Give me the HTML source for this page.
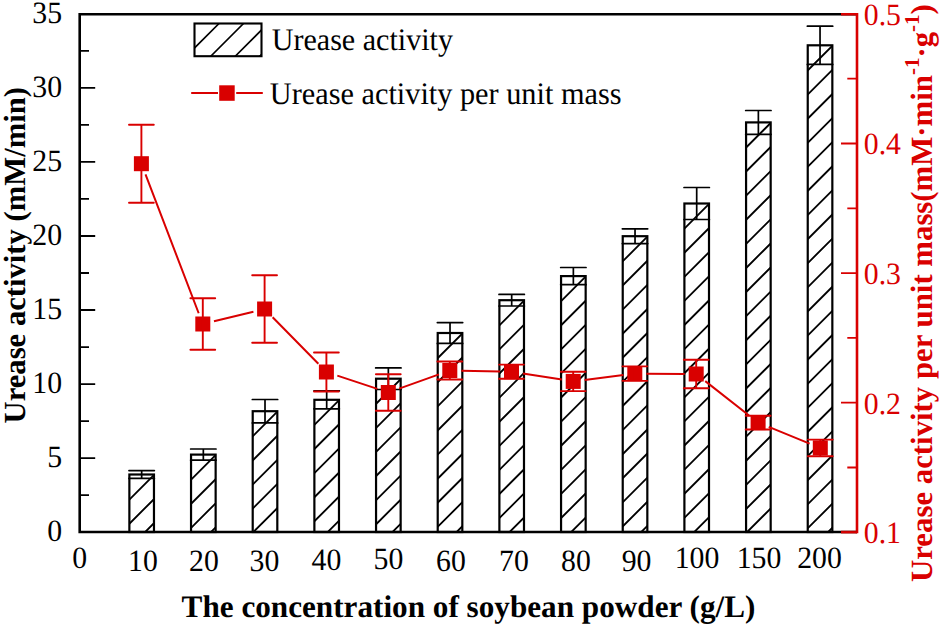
<!DOCTYPE html><html><head><meta charset="utf-8"><style>html,body{margin:0;padding:0;background:#fff;}svg{display:block;}</style></head><body>
<svg width="940" height="626" viewBox="0 0 940 626" font-family="Liberation Serif, serif" text-rendering="geometricPrecision">
<defs>
<clipPath id="c0"><rect x="129.37" y="474.50" width="24.6" height="57.50"/></clipPath>
<clipPath id="c1"><rect x="191.04" y="454.60" width="24.6" height="77.40"/></clipPath>
<clipPath id="c2"><rect x="252.71" y="411.20" width="24.6" height="120.80"/></clipPath>
<clipPath id="c3"><rect x="314.38" y="399.80" width="24.6" height="132.20"/></clipPath>
<clipPath id="c4"><rect x="376.05" y="378.70" width="24.6" height="153.30"/></clipPath>
<clipPath id="c5"><rect x="437.72" y="333.00" width="24.6" height="199.00"/></clipPath>
<clipPath id="c6"><rect x="499.39" y="300.20" width="24.6" height="231.80"/></clipPath>
<clipPath id="c7"><rect x="561.06" y="276.10" width="24.6" height="255.90"/></clipPath>
<clipPath id="c8"><rect x="622.73" y="236.20" width="24.6" height="295.80"/></clipPath>
<clipPath id="c9"><rect x="684.40" y="203.50" width="24.6" height="328.50"/></clipPath>
<clipPath id="c10"><rect x="746.07" y="122.40" width="24.6" height="409.60"/></clipPath>
<clipPath id="c11"><rect x="807.74" y="45.30" width="24.6" height="486.70"/></clipPath>
</defs>
<path clip-path="url(#c0)" d="M127.37 501.60L155.97 473.00M127.37 525.70L155.97 497.10M127.37 549.80L155.97 521.20" stroke="#000" stroke-width="1.85" fill="none"/>
<rect x="129.37" y="474.50" width="24.6" height="57.50" fill="none" stroke="#000" stroke-width="2.2"/>
<path clip-path="url(#c1)" d="M189.04 481.70L217.64 453.10M189.04 505.80L217.64 477.20M189.04 529.90L217.64 501.30M189.04 554.00L217.64 525.40" stroke="#000" stroke-width="1.85" fill="none"/>
<rect x="191.04" y="454.60" width="24.6" height="77.40" fill="none" stroke="#000" stroke-width="2.2"/>
<path clip-path="url(#c2)" d="M250.71 438.30L279.31 409.70M250.71 462.40L279.31 433.80M250.71 486.50L279.31 457.90M250.71 510.60L279.31 482.00M250.71 534.70L279.31 506.10M250.71 558.80L279.31 530.20" stroke="#000" stroke-width="1.85" fill="none"/>
<rect x="252.71" y="411.20" width="24.6" height="120.80" fill="none" stroke="#000" stroke-width="2.2"/>
<path clip-path="url(#c3)" d="M312.38 426.90L340.98 398.30M312.38 451.00L340.98 422.40M312.38 475.10L340.98 446.50M312.38 499.20L340.98 470.60M312.38 523.30L340.98 494.70M312.38 547.40L340.98 518.80" stroke="#000" stroke-width="1.85" fill="none"/>
<rect x="314.38" y="399.80" width="24.6" height="132.20" fill="none" stroke="#000" stroke-width="2.2"/>
<path clip-path="url(#c4)" d="M374.05 405.80L402.65 377.20M374.05 429.90L402.65 401.30M374.05 454.00L402.65 425.40M374.05 478.10L402.65 449.50M374.05 502.20L402.65 473.60M374.05 526.30L402.65 497.70M374.05 550.40L402.65 521.80" stroke="#000" stroke-width="1.85" fill="none"/>
<rect x="376.05" y="378.70" width="24.6" height="153.30" fill="none" stroke="#000" stroke-width="2.2"/>
<path clip-path="url(#c5)" d="M435.72 360.10L464.32 331.50M435.72 384.20L464.32 355.60M435.72 408.30L464.32 379.70M435.72 432.40L464.32 403.80M435.72 456.50L464.32 427.90M435.72 480.60L464.32 452.00M435.72 504.70L464.32 476.10M435.72 528.80L464.32 500.20M435.72 552.90L464.32 524.30" stroke="#000" stroke-width="1.85" fill="none"/>
<rect x="437.72" y="333.00" width="24.6" height="199.00" fill="none" stroke="#000" stroke-width="2.2"/>
<path clip-path="url(#c6)" d="M497.39 327.30L525.99 298.70M497.39 351.40L525.99 322.80M497.39 375.50L525.99 346.90M497.39 399.60L525.99 371.00M497.39 423.70L525.99 395.10M497.39 447.80L525.99 419.20M497.39 471.90L525.99 443.30M497.39 496.00L525.99 467.40M497.39 520.10L525.99 491.50M497.39 544.20L525.99 515.60" stroke="#000" stroke-width="1.85" fill="none"/>
<rect x="499.39" y="300.20" width="24.6" height="231.80" fill="none" stroke="#000" stroke-width="2.2"/>
<path clip-path="url(#c7)" d="M559.06 303.20L587.66 274.60M559.06 327.30L587.66 298.70M559.06 351.40L587.66 322.80M559.06 375.50L587.66 346.90M559.06 399.60L587.66 371.00M559.06 423.70L587.66 395.10M559.06 447.80L587.66 419.20M559.06 471.90L587.66 443.30M559.06 496.00L587.66 467.40M559.06 520.10L587.66 491.50M559.06 544.20L587.66 515.60" stroke="#000" stroke-width="1.85" fill="none"/>
<rect x="561.06" y="276.10" width="24.6" height="255.90" fill="none" stroke="#000" stroke-width="2.2"/>
<path clip-path="url(#c8)" d="M620.73 263.30L649.33 234.70M620.73 287.40L649.33 258.80M620.73 311.50L649.33 282.90M620.73 335.60L649.33 307.00M620.73 359.70L649.33 331.10M620.73 383.80L649.33 355.20M620.73 407.90L649.33 379.30M620.73 432.00L649.33 403.40M620.73 456.10L649.33 427.50M620.73 480.20L649.33 451.60M620.73 504.30L649.33 475.70M620.73 528.40L649.33 499.80M620.73 552.50L649.33 523.90" stroke="#000" stroke-width="1.85" fill="none"/>
<rect x="622.73" y="236.20" width="24.6" height="295.80" fill="none" stroke="#000" stroke-width="2.2"/>
<path clip-path="url(#c9)" d="M682.40 230.60L711.00 202.00M682.40 254.70L711.00 226.10M682.40 278.80L711.00 250.20M682.40 302.90L711.00 274.30M682.40 327.00L711.00 298.40M682.40 351.10L711.00 322.50M682.40 375.20L711.00 346.60M682.40 399.30L711.00 370.70M682.40 423.40L711.00 394.80M682.40 447.50L711.00 418.90M682.40 471.60L711.00 443.00M682.40 495.70L711.00 467.10M682.40 519.80L711.00 491.20M682.40 543.90L711.00 515.30" stroke="#000" stroke-width="1.85" fill="none"/>
<rect x="684.40" y="203.50" width="24.6" height="328.50" fill="none" stroke="#000" stroke-width="2.2"/>
<path clip-path="url(#c10)" d="M744.07 149.50L772.67 120.90M744.07 173.60L772.67 145.00M744.07 197.70L772.67 169.10M744.07 221.80L772.67 193.20M744.07 245.90L772.67 217.30M744.07 270.00L772.67 241.40M744.07 294.10L772.67 265.50M744.07 318.20L772.67 289.60M744.07 342.30L772.67 313.70M744.07 366.40L772.67 337.80M744.07 390.50L772.67 361.90M744.07 414.60L772.67 386.00M744.07 438.70L772.67 410.10M744.07 462.80L772.67 434.20M744.07 486.90L772.67 458.30M744.07 511.00L772.67 482.40M744.07 535.10L772.67 506.50M744.07 559.20L772.67 530.60" stroke="#000" stroke-width="1.85" fill="none"/>
<rect x="746.07" y="122.40" width="24.6" height="409.60" fill="none" stroke="#000" stroke-width="2.2"/>
<path clip-path="url(#c11)" d="M805.74 72.40L834.34 43.80M805.74 96.50L834.34 67.90M805.74 120.60L834.34 92.00M805.74 144.70L834.34 116.10M805.74 168.80L834.34 140.20M805.74 192.90L834.34 164.30M805.74 217.00L834.34 188.40M805.74 241.10L834.34 212.50M805.74 265.20L834.34 236.60M805.74 289.30L834.34 260.70M805.74 313.40L834.34 284.80M805.74 337.50L834.34 308.90M805.74 361.60L834.34 333.00M805.74 385.70L834.34 357.10M805.74 409.80L834.34 381.20M805.74 433.90L834.34 405.30M805.74 458.00L834.34 429.40M805.74 482.10L834.34 453.50M805.74 506.20L834.34 477.60M805.74 530.30L834.34 501.70M805.74 554.40L834.34 525.80" stroke="#000" stroke-width="1.85" fill="none"/>
<rect x="807.74" y="45.30" width="24.6" height="486.70" fill="none" stroke="#000" stroke-width="2.2"/>
<path d="M128.97 470.60H154.37M128.97 478.40H154.37M141.67 470.60V478.40" stroke="#000" stroke-width="1.7" stroke-linecap="round" fill="none"/>
<path d="M190.64 449.00H216.04M190.64 460.20H216.04M203.34 449.00V460.20" stroke="#000" stroke-width="1.7" stroke-linecap="round" fill="none"/>
<path d="M252.31 399.50H277.71M252.31 422.90H277.71M265.01 399.50V422.90" stroke="#000" stroke-width="1.7" stroke-linecap="round" fill="none"/>
<path d="M313.98 390.80H339.38M313.98 408.80H339.38M326.68 390.80V408.80" stroke="#000" stroke-width="1.7" stroke-linecap="round" fill="none"/>
<path d="M375.65 367.90H401.05M375.65 389.50H401.05M388.35 367.90V389.50" stroke="#000" stroke-width="1.7" stroke-linecap="round" fill="none"/>
<path d="M437.32 322.55H462.72M437.32 343.45H462.72M450.02 322.55V343.45" stroke="#000" stroke-width="1.7" stroke-linecap="round" fill="none"/>
<path d="M498.99 294.40H524.39M498.99 306.00H524.39M511.69 294.40V306.00" stroke="#000" stroke-width="1.7" stroke-linecap="round" fill="none"/>
<path d="M560.66 267.50H586.06M560.66 284.70H586.06M573.36 267.50V284.70" stroke="#000" stroke-width="1.7" stroke-linecap="round" fill="none"/>
<path d="M622.33 228.85H647.73M622.33 243.55H647.73M635.03 228.85V243.55" stroke="#000" stroke-width="1.7" stroke-linecap="round" fill="none"/>
<path d="M684.00 187.50H709.40M684.00 219.50H709.40M696.70 187.50V219.50" stroke="#000" stroke-width="1.7" stroke-linecap="round" fill="none"/>
<path d="M745.67 110.50H771.07M745.67 134.30H771.07M758.37 110.50V134.30" stroke="#000" stroke-width="1.7" stroke-linecap="round" fill="none"/>
<path d="M807.34 26.20H832.74M807.34 64.40H832.74M820.04 26.20V64.40" stroke="#000" stroke-width="1.7" stroke-linecap="round" fill="none"/>
<path d="M79.7 14.2H857.0M79.7 532.0H857.0M79.7 12.899999999999999V533.2" stroke="#000" stroke-width="2.6" fill="none"/>
<path d="M79.7 532.10H95.2M79.7 458.07H95.2M79.7 384.04H95.2M79.7 310.01H95.2M79.7 235.99H95.2M79.7 161.96H95.2M79.7 87.93H95.2M79.7 13.90H95.2M79.7 495.09H89M79.7 421.06H89M79.7 347.03H89M79.7 273.00H89M79.7 198.97H89M79.7 124.94H89M79.7 50.91H89" stroke="#000" stroke-width="1.8" fill="none"/>
<path d="M857.0 12.899999999999999V533.2M841 14.2H857.0" stroke="#d90000" stroke-width="2.6" fill="none"/>
<path d="M841 532.0H857.0" stroke="#b00000" stroke-width="2.5" fill="none"/>
<path d="M857.0 532.30H841M857.0 402.70H841M857.0 273.10H841M857.0 143.50H841M857.0 13.90H841M857.0 467.50H847.3M857.0 337.90H847.3M857.0 208.30H847.3M857.0 78.70H847.3" stroke="#d90000" stroke-width="1.8" fill="none"/>
<path d="M145.51 174.44L198.69 313.26M213.98 321.29L253.42 311.71M272.65 317.21L318.35 363.79M337.32 375.62L377.38 388.88M399.13 388.63L438.97 374.37M461.30 370.72L500.00 371.48M522.86 373.49L561.84 379.61M584.61 379.96L623.39 375.04M646.30 373.67L684.70 373.93M705.25 381.10L749.05 415.50M768.75 426.93L809.65 443.57" stroke="#d90000" stroke-width="2" fill="none"/>
<rect x="133.90" y="156.20" width="15" height="15" fill="#d90000"/>
<rect x="195.30" y="316.50" width="15" height="15" fill="#d90000"/>
<rect x="257.10" y="301.50" width="15" height="15" fill="#d90000"/>
<rect x="318.90" y="364.50" width="15" height="15" fill="#d90000"/>
<rect x="380.80" y="385.00" width="15" height="15" fill="#d90000"/>
<rect x="442.30" y="363.00" width="15" height="15" fill="#d90000"/>
<rect x="504.00" y="364.20" width="15" height="15" fill="#d90000"/>
<rect x="565.70" y="373.90" width="15" height="15" fill="#d90000"/>
<rect x="627.30" y="366.10" width="15" height="15" fill="#d90000"/>
<rect x="688.70" y="366.50" width="15" height="15" fill="#d90000"/>
<rect x="750.60" y="415.10" width="15" height="15" fill="#d90000"/>
<rect x="812.80" y="440.40" width="15" height="15" fill="#d90000"/>
<path d="M129.00 124.70H153.80M129.00 202.70H153.80M141.40 124.70V202.70" stroke="#d90000" stroke-width="1.9" stroke-linecap="round" fill="none"/>
<path d="M190.40 298.30H215.20M190.40 349.70H215.20M202.80 298.30V349.70" stroke="#d90000" stroke-width="1.9" stroke-linecap="round" fill="none"/>
<path d="M252.20 275.20H277.00M252.20 342.80H277.00M264.60 275.20V342.80" stroke="#d90000" stroke-width="1.9" stroke-linecap="round" fill="none"/>
<path d="M314.00 352.50H338.80M314.00 391.50H338.80M326.40 352.50V391.50" stroke="#d90000" stroke-width="1.9" stroke-linecap="round" fill="none"/>
<path d="M375.90 374.20H400.70M375.90 410.80H400.70M388.30 374.20V410.80" stroke="#d90000" stroke-width="1.9" stroke-linecap="round" fill="none"/>
<path d="M437.40 361.50H462.20M437.40 379.50H462.20M449.80 361.50V379.50" stroke="#d90000" stroke-width="1.9" stroke-linecap="round" fill="none"/>
<path d="M499.10 364.60H523.90M499.10 378.80H523.90M511.50 364.60V378.80" stroke="#d90000" stroke-width="1.9" stroke-linecap="round" fill="none"/>
<path d="M560.80 371.70H585.60M560.80 391.10H585.60M573.20 371.70V391.10" stroke="#d90000" stroke-width="1.9" stroke-linecap="round" fill="none"/>
<path d="M622.40 366.35H647.20M622.40 380.85H647.20M634.80 366.35V380.85" stroke="#d90000" stroke-width="1.9" stroke-linecap="round" fill="none"/>
<path d="M683.80 359.70H708.60M683.80 388.30H708.60M696.20 359.70V388.30" stroke="#d90000" stroke-width="1.9" stroke-linecap="round" fill="none"/>
<path d="M745.70 415.75H770.50M745.70 429.45H770.50M758.10 415.75V429.45" stroke="#d90000" stroke-width="1.9" stroke-linecap="round" fill="none"/>
<path d="M807.90 439.60H832.70M807.90 456.20H832.70M820.30 439.60V456.20" stroke="#d90000" stroke-width="1.9" stroke-linecap="round" fill="none"/>
<rect x="194.5" y="23.5" width="67" height="32.7" fill="none" stroke="#000" stroke-width="2.1"/>
<clipPath id="lg"><rect x="194.5" y="23.5" width="67" height="32.7"/></clipPath>
<path clip-path="url(#lg)" d="M189.50 53.00L266.50 -24.00M189.50 77.50L266.50 0.50M189.50 102.00L266.50 25.00M189.50 126.50L266.50 49.50" stroke="#000" stroke-width="1.6" fill="none"/>
<path d="M191.2 93H218M236.2 93H262.8" stroke="#d90000" stroke-width="2" fill="none"/>
<rect x="219.2" y="85.3" width="15.5" height="15.5" fill="#d90000"/>
<text transform="translate(271.7 50) scale(0.955 1)" font-size="31.5">Urease activity</text>
<text transform="translate(269.8 103.5) scale(0.962 1)" font-size="31.5">Urease activity per unit mass</text>
<text transform="translate(62.1 541.40) scale(0.96 1)" font-size="31" text-anchor="end">0</text>
<text transform="translate(62.1 467.37) scale(0.96 1)" font-size="31" text-anchor="end">5</text>
<text transform="translate(62.1 393.34) scale(0.96 1)" font-size="31" text-anchor="end">10</text>
<text transform="translate(62.1 319.31) scale(0.96 1)" font-size="31" text-anchor="end">15</text>
<text transform="translate(62.1 245.29) scale(0.96 1)" font-size="31" text-anchor="end">20</text>
<text transform="translate(62.1 171.26) scale(0.96 1)" font-size="31" text-anchor="end">25</text>
<text transform="translate(62.1 97.23) scale(0.96 1)" font-size="31" text-anchor="end">30</text>
<text transform="translate(62.1 23.20) scale(0.96 1)" font-size="31" text-anchor="end">35</text>
<text transform="translate(863.8 543.20) scale(0.96 1)" font-size="31" fill="#d90000">0.1</text>
<text transform="translate(863.8 413.60) scale(0.96 1)" font-size="31" fill="#d90000">0.2</text>
<text transform="translate(863.8 284.00) scale(0.96 1)" font-size="31" fill="#d90000">0.3</text>
<text transform="translate(863.8 154.40) scale(0.96 1)" font-size="31" fill="#d90000">0.4</text>
<text transform="translate(863.8 24.80) scale(0.96 1)" font-size="31" fill="#d90000">0.5</text>
<text transform="translate(79.6 568.00) scale(0.96 1)" font-size="31" text-anchor="middle">0</text>
<text transform="translate(143 570.50) scale(0.96 1)" font-size="31" text-anchor="middle">10</text>
<text transform="translate(204 570.50) scale(0.96 1)" font-size="31" text-anchor="middle">20</text>
<text transform="translate(264.4 571.20) scale(0.96 1)" font-size="31" text-anchor="middle">30</text>
<text transform="translate(326.5 570.00) scale(0.96 1)" font-size="31" text-anchor="middle">40</text>
<text transform="translate(388.4 568.70) scale(0.96 1)" font-size="31" text-anchor="middle">50</text>
<text transform="translate(451 571.20) scale(0.96 1)" font-size="31" text-anchor="middle">60</text>
<text transform="translate(514 571.20) scale(0.96 1)" font-size="31" text-anchor="middle">70</text>
<text transform="translate(575.9 571.20) scale(0.96 1)" font-size="31" text-anchor="middle">80</text>
<text transform="translate(636.6 570.80) scale(0.96 1)" font-size="31" text-anchor="middle">90</text>
<text transform="translate(697 568.00) scale(0.96 1)" font-size="31" text-anchor="middle">100</text>
<text transform="translate(759 568.00) scale(0.96 1)" font-size="31" text-anchor="middle">150</text>
<text transform="translate(819.5 568.00) scale(0.96 1)" font-size="31" text-anchor="middle">200</text>
<text x="181.6" y="617.1" font-size="31.2" font-weight="bold">The concentration of soybean powder (g/L)</text>
<text transform="translate(24.5 423.4) rotate(-90)" font-size="30.65" font-weight="bold">Urease activity (mM/min)</text>
<text transform="translate(931.5 582) rotate(-90)" font-size="30.8" font-weight="bold" fill="#d90000">Urease activity per unit mass(mM·min<tspan font-size="21" dy="-12.8">-1</tspan><tspan dy="12.8">·g</tspan><tspan font-size="21" dy="-12.8">-1</tspan><tspan dy="12.8">)</tspan></text>
</svg></body></html>
